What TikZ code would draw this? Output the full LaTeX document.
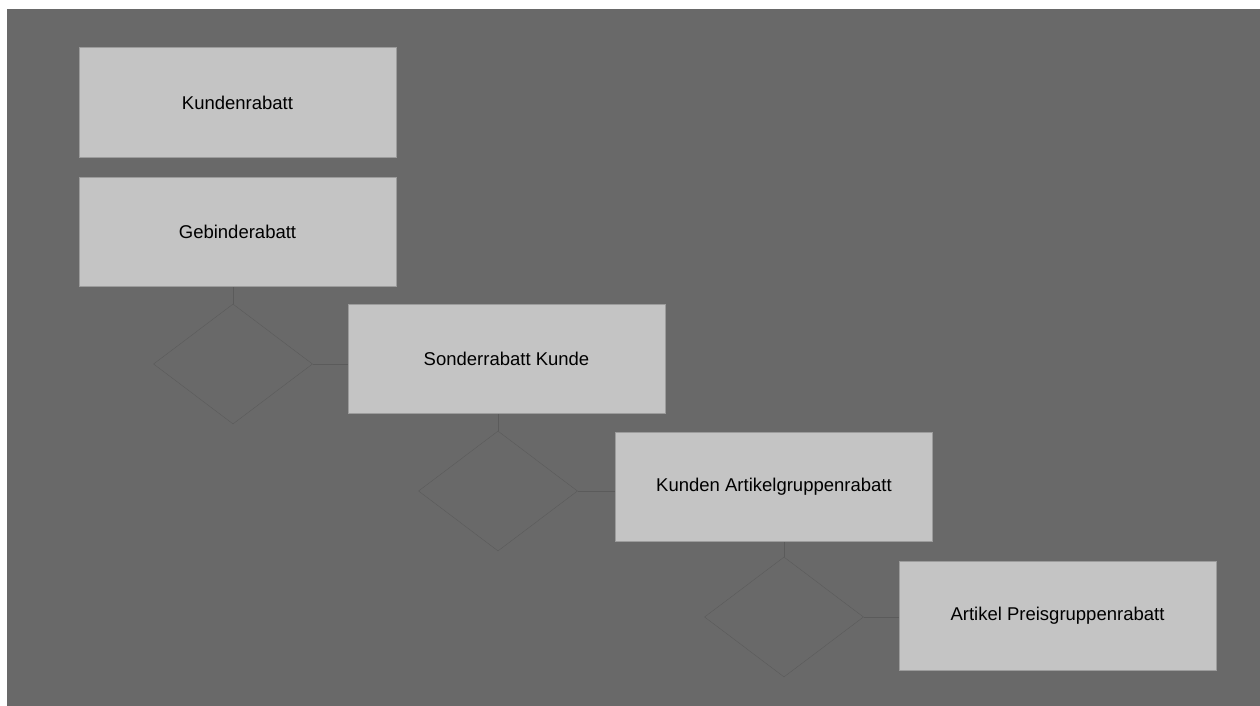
\documentclass[tikz,border=0pt]{standalone}
\usepackage{fontspec}
\setmainfont{Liberation Sans}
\usetikzlibrary{shapes.geometric}
\definecolor{bggray}{HTML}{696969}
\definecolor{boxgray}{HTML}{C4C4C4}
\definecolor{boxline}{HTML}{9C9C9C}
\definecolor{linkgray}{HTML}{5B5B5B}
\tikzset{
  rabatt/.style={draw=boxline,line width=1pt,fill=boxgray,minimum width=317pt,
    minimum height=109pt,inner sep=0pt,font=\fontsize{18.5}{22}\selectfont},
  choice/.style={draw=linkgray,shape=diamond,minimum width=159pt,
    minimum height=120pt,inner sep=0pt},
  link/.style={draw=linkgray,line width=1pt}
}

\begin{document}
\begin{tikzpicture}[x=1pt,y=-1pt]
  % Background
  \fill[white] (0,0) rectangle (1260,706);
  \fill[bggray] (7,9) rectangle (1260,706);

  % Boxes
  \node[rabatt] (kunde) at (237.5,102.5) {Kundenrabatt};
  \node[rabatt] (gebinde) at (237.5,231.5) {Gebinderabatt};
  \node[rabatt] (sonder) at (506.5,358.5) {Sonderrabatt Kunde};
  \node[rabatt] (artgruppe) at (774,487) {Kunden Artikelgruppenrabatt};
  \node[rabatt] (preisgruppe) at (1057.5,616) {Artikel Preisgruppenrabatt};

  % Decisions
  \node[choice] (d1) at (233,364) {};
  \node[choice] (d2) at (498,491) {};
  \node[choice] (d3) at (784,617) {};

  % Links
  \draw[link] (d1.north) -- (d1.north |- gebinde.south);
  \draw[link] (d1.east) -- (d1.east -| sonder.west);
  \draw[link] (d2.north) -- (d2.north |- sonder.south);
  \draw[link] (d2.east) -- (d2.east -| artgruppe.west);
  \draw[link] (d3.north) -- (d3.north |- artgruppe.south);
  \draw[link] (d3.east) -- (d3.east -| preisgruppe.west);
\end{tikzpicture}
\end{document}
